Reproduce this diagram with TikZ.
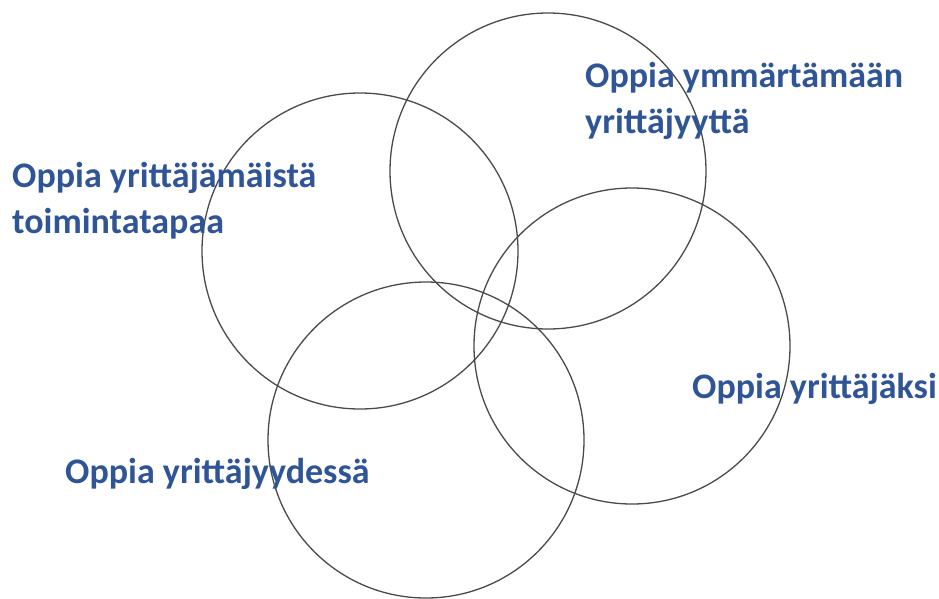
\documentclass[tikz,border=0pt]{standalone}
\usepackage{fontspec}
\setmainfont{Carlito}
\definecolor{lblblue}{HTML}{2F5597}
\definecolor{ringgray}{HTML}{4A4A4A}
\begin{document}
\begin{tikzpicture}[x=1pt,y=-1pt,
  ring/.style={draw=ringgray,line width=1.3pt},
  lbl/.style={text=lblblue,font=\fontsize{36}{46}\selectfont\bfseries,inner sep=0pt,anchor=base west,align=left}]
\useasboundingbox (0,0) rectangle (939,598);
\coordinate (c1) at (360,251);
\coordinate (c2) at (548,171);
\coordinate (c3) at (632,346);
\coordinate (c4) at (426,440);
\draw[ring] (c1) circle (158);
\draw[ring] (c2) circle (158);
\draw[ring] (c3) circle (158);
\draw[ring] (c4) circle (158);
\node[lbl] (l1) at (12,233) {Oppia yrittäjämäistä\\toimintatapaa};
\node[lbl] (l2) at (585,133) {Oppia ymmärtämään\\yrittäjyyttä};
\node[lbl] (l3) at (692,398) {Oppia yrittäjäksi};
\node[lbl] (l4) at (65,483) {Oppia yrittäjyydessä};
\end{tikzpicture}
\end{document}
